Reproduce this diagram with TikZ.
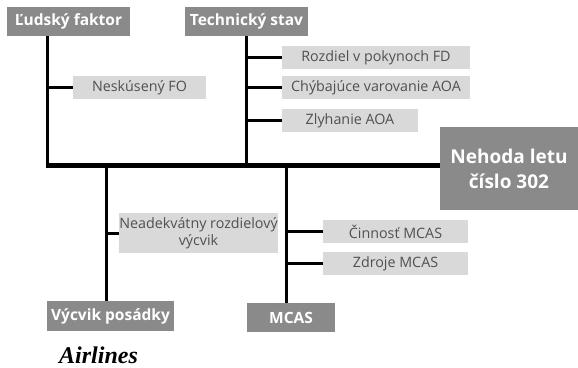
\documentclass[tikz,border=0pt]{standalone}
\usepackage{fontspec}
\setmainfont{Open Sans}
\newfontfamily\airfont{Liberation Serif}
\usetikzlibrary{positioning}
\definecolor{headgray}{HTML}{8A8A8A}
\definecolor{leafgray}{HTML}{D9D9D9}
\definecolor{leaftext}{HTML}{505050}

\begin{document}
\begin{tikzpicture}[x=1pt,y=-1pt,
head/.style={fill=headgray,text=white,font=\fontsize{15.5}{18}\selectfont\bfseries,inner sep=0pt,minimum height=29pt},
leaf/.style={fill=leafgray,text=leaftext,font=\fontsize{14.3}{17.5}\selectfont,inner sep=0pt,minimum height=23pt,align=center},
bone/.style={line width=3pt},spine/.style={line width=5pt}]
\useasboundingbox (0,0) rectangle (578,367);
\node[head,minimum width=123pt] (lf) at (68.5,21.5) {Ľudský faktor};
\node[head,minimum width=123pt] (ts) at (246.5,21.5) {Technický stav};
\node[leaf,minimum width=133pt] (nf) at (139.5,87.5) {Neskúsený FO};
\node[leaf,minimum width=188pt] (rp) at (376,57.5) {Rozdiel v pokynoch FD};
\node[leaf,minimum width=188pt] (cv) at (376,87.5) {Chýbajúce varovanie AOA};
\node[leaf,minimum width=136pt] (za) at (350,120.5) {Zlyhanie AOA};
\node[head,minimum width=138pt,minimum height=83pt,align=center,font=\fontsize{19}{25}\selectfont\bfseries] (nl) at (509,168.5) {Nehoda letu\\číslo 302};
\node[leaf,minimum width=159pt,minimum height=40pt] (nr) at (198.5,233) {Neadekvátny rozdielový\\výcvik};
\node[leaf,minimum width=145pt] (cm) at (395.5,231.5) {Činnosť MCAS};
\node[leaf,minimum width=145pt] (zm) at (395.5,263.5) {Zdroje MCAS};
\node[head,minimum width=127pt,minimum height=30pt] (vp) at (110.5,316) {Výcvik posádky};
\node[head,minimum width=88pt] (mc) at (291,317.5) {MCAS};
\node[anchor=base west,inner sep=0pt,font=\airfont\fontsize{24}{24}\selectfont\bfseries\itshape] (al) at (59,363) {Airlines};
\coordinate (tail) at (47,165); \coordinate (crew) at (106,165); \coordinate (mcasj) at (286,165);
\draw[spine] ([xshift=-1.5pt]tail) -- (tail -| nl.west);
\draw[bone] (lf.south -| tail) -- (tail); \draw[bone] (ts.south) -- (ts.south |- tail);
\draw[bone] (crew) -- (crew |- vp.north); \draw[bone] (mcasj) -- (mcasj |- mc.north);
\draw[bone] (nf.west) -- (nf.west -| tail);
\draw[bone] (rp.west) -- (rp.west -| ts.south); \draw[bone] (cv.west) -- (cv.west -| ts.south); \draw[bone] (za.west) -- (za.west -| ts.south);
\draw[bone] (nr.west) -- (nr.west -| crew);
\draw[bone] (cm.west) -- (cm.west -| mcasj); \draw[bone] (zm.west) -- (zm.west -| mcasj);
\end{tikzpicture}
\end{document}
